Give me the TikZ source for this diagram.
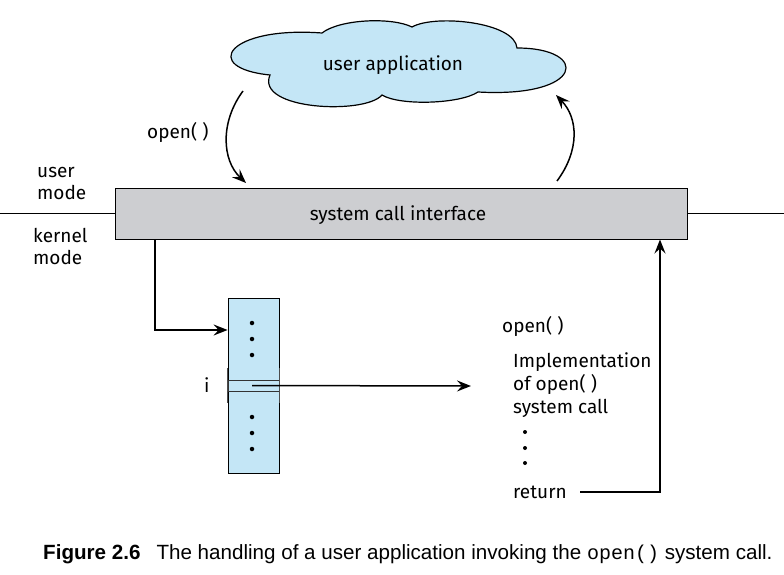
\documentclass[tikz,border=0pt]{standalone}
\usepackage{fontspec}
\setmainfont{Fira Sans}
\newfontfamily\capfont{Liberation Sans}
\newfontfamily\capmono{Liberation Mono}
\usetikzlibrary{positioning}
\usetikzlibrary{arrows.meta}
\definecolor{cloudblue}{RGB}{196,230,246}
\definecolor{boxgray}{RGB}{205,206,209}

\begin{document}
\begin{tikzpicture}[x=1pt, y=-1pt,
labeltext/.style={font=\fontsize{19}{22}\selectfont, inner sep=0pt, anchor=base west},
arr/.style={-{Stealth[length=14pt, width=11pt, inset=5pt]}, line width=1.5pt},
dotmark/.style={circle, fill=black, inner sep=0pt, minimum size=4.5pt}]
\useasboundingbox (0,0) rectangle (784,575);

% cloud and interface box
\draw[line width=1.2pt, fill=cloudblue] (270,75)
  .. controls (200,68) and (228,26) .. (322,33)
  .. controls (340,19) and (392,17) .. (412,27)
  .. controls (435,14) and (515,22) .. (517,48)
  .. controls (590,48) and (585,98) .. (478,92)
  .. controls (460,104) and (400,106) .. (382,95)
  .. controls (365,115) and (255,110) .. cycle;
\node[labeltext, anchor=base] (apptext) at (393,71) {user application};
\node[draw=black, line width=1pt, fill=boxgray, minimum width=572pt, minimum height=51pt, inner sep=0pt] (sci) at (401,213.5) {};
\node[labeltext, anchor=base] (scitext) at (398,220) {system call interface};

% user / kernel boundary
\coordinate (lineleft) at (0,213);
\coordinate (lineright) at (784,213);
\draw[line width=0.8pt] (lineleft) -- (sci.west |- lineleft);
\draw[line width=0.8pt] (sci.east |- lineright) -- (lineright);
\node[labeltext] (user) at (37,177) {user};
\node[labeltext] (umode) at (37,199) {mode};
\node[labeltext] (kernel) at (33,242) {kernel};
\node[labeltext] (kmode) at (33,264) {mode};

% calls between application and interface
\coordinate (callout) at (243,91);
\coordinate (callin) at (246,183);
\coordinate (retout) at (557,181);
\coordinate (retin) at (556,95);
\draw[arr] (callout) .. controls (220,122) and (222,160) .. (callin);
\draw[arr] (retout) .. controls (580,150) and (578,118) .. (retin);
\node[labeltext] (opencall) at (147,139) {open( )};

% system call table
\node[draw=black, line width=0.8pt, fill=cloudblue, minimum width=51pt, minimum height=175pt, inner sep=0pt] (tbl) at (253.5,385.5) {};
\node[draw=black!80, line width=0.7pt, fill=cloudblue, minimum width=51pt, minimum height=11pt, inner sep=0pt] (rowi) at (253.5,385.5) {};
\draw[line width=0.4pt, black!70] (rowi.west |- 0,368) -- (rowi.west |- 0,403);
\draw[line width=0.4pt, black!70] (rowi.east |- 0,368) -- (rowi.east |- 0,403);
\foreach \y in {323,339,355,417,433,449}
  \node[dotmark] at (252,\y) {};
\node[labeltext] (idx) at (204,392) {i};

\coordinate (drop) at (155,330);
\draw[arr] (sci.south -| drop) -- (drop) -- (tbl.west |- drop);

% implementation of open()
\node[labeltext] (openhead) at (502,332) {open( )};
\node[labeltext] (impl1) at (513,367) {Implementation};
\node[labeltext] (impl2) at (513,390) {of open( )};
\node[labeltext] (impl3) at (513,413) {system call};
\foreach \y in {432,448,463}
  \node[dotmark, minimum size=4pt] at (525,\y) {};
\node[labeltext] (ret) at (513,498) {return};
\coordinate (implin) at (471,386);
\draw[arr] (rowi.center -| 252,0) -- (implin);

\coordinate (retcorner) at (660,492);
\draw[arr] (580,492) -- (retcorner) -- (sci.south -| retcorner);

% caption
\node[inner sep=0pt, anchor=base west] (caption) at (43,559)
  {\fontsize{20.6}{24}\selectfont\capfont\textbf{Figure 2.6}\hspace{16pt}The handling of a user application invoking the {\capmono\fontsize{20}{24}\selectfont open()} system call.};
\end{tikzpicture}
\end{document}
